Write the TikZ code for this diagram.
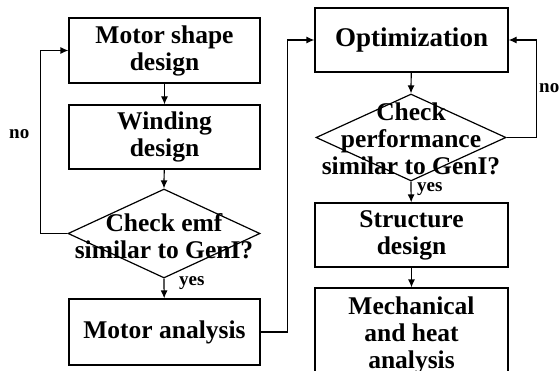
\documentclass[tikz,border=0pt]{standalone}
\usepackage{fontspec}
\setmainfont{Liberation Serif}
\usetikzlibrary{shapes.geometric,arrows.meta}
\begin{document}
\begin{tikzpicture}[x=1pt,y=-1pt,
  font=\fontsize{25.5}{27}\selectfont\bfseries,
  flow/.style={line width=1.2pt},
  arr/.style={flow,-{Latex[length=8pt,width=7pt]}},
  procbox/.style={draw,flow,rectangle,inner sep=0pt,align=center},
  decision/.style={draw,flow,diamond,inner sep=0pt},
  caption/.style={inner sep=0pt,align=center},
  tag/.style={inner sep=0pt,font=\fontsize{19}{20}\selectfont\bfseries}]
\useasboundingbox (0,0) rectangle (559,371);
\clip (0,0) rectangle (559,371);

% left column: shape and winding design loop
\node[procbox,minimum width=191pt,minimum height=65pt] (shape) at (164.5,50.5) {Motor shape\\design};
\node[procbox,minimum width=191pt,minimum height=64pt] (wind) at (164.5,137) {Winding\\design};
\node[decision,minimum width=192pt,minimum height=89pt] (emf) at (164,233.5) {};
\node[caption] (emftext) at (164,236) {Check emf\\similar to GenI?};
\node[procbox,minimum width=191pt,minimum height=66pt] (motor) at (164.5,332) {Motor analysis};

% right column: optimization and structure loop
\node[procbox,minimum width=193pt,minimum height=64pt,font=\fontsize{27}{28}\selectfont\bfseries] (opt) at (411.5,40) {Optimization};
\node[decision,minimum width=190pt,minimum height=87pt] (perf) at (411,137.5) {};
\node[caption] (perftext) at (411,139) {Check\\performance\\similar to GenI?};
\node[procbox,minimum width=193pt,minimum height=64pt] (struct) at (411.5,235) {Structure\\design};
\node[procbox,minimum width=193pt,minimum height=100pt] (mech) at (411.5,338) {};
\node[caption] (mechtext) at (411.5,335) {Mechanical\\and heat\\analysis};

% connectors
\draw[arr] (shape) -- (wind);
\draw[arr] (wind) -- (emf.north);
\draw[arr] (emf.south) -- (motor);
\draw[arr] (emf.west) -- ++(-27,0) |- (shape.west);
\draw[arr] (motor.east) -- ++(27,0) |- (opt.west);
\draw[arr] (opt) -- (perf.north);
\draw[arr] (perf.south) -- (struct);
\draw[arr] (perf.east) -- ++(30,0) |- (opt.east);
\draw[arr] (struct) -- (mech);

% branch labels
\node[tag,anchor=west] (noleft) at (9,134) {no};
\node[tag,anchor=west] (yesleft) at (179,283) {yes};
\node[tag,anchor=west] (noright) at (539,88) {no};
\node[tag,anchor=west] (yesright) at (417,189) {yes};
\end{tikzpicture}
\end{document}
